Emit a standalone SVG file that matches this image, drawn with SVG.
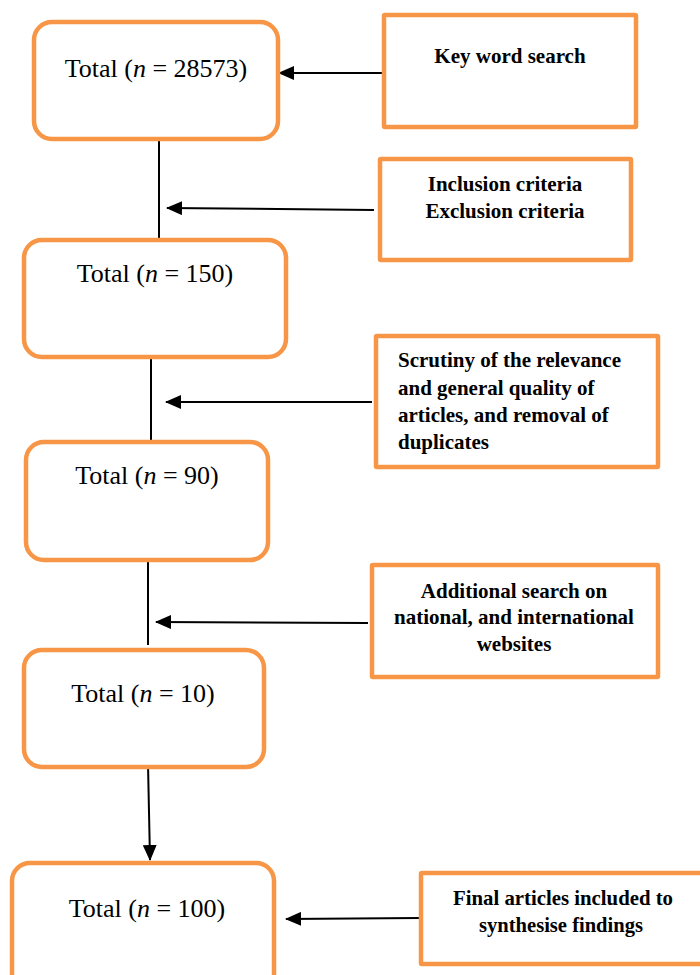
<svg xmlns="http://www.w3.org/2000/svg" width="700" height="975" viewBox="0 0 700 975">
<defs>
<style>
.rn{fill:#fff;stroke:#F79646;stroke-width:4.5}
.rb{fill:#fff;stroke:#F79646;stroke-width:4.5}
.t{font-family:"Liberation Serif","Times New Roman",serif;font-size:26px;fill:#000;text-anchor:middle}
.b{font-family:"Liberation Serif","Times New Roman",serif;font-size:21px;font-weight:bold;fill:#000}
.c{text-anchor:middle}
.ln{stroke:#000;stroke-width:2;fill:none}
</style>
<marker id="ah" markerWidth="16" markerHeight="14" refX="15" refY="7" orient="auto" markerUnits="userSpaceOnUse">
<path d="M0,0 L16,7 L0,14 Z" fill="#000"/>
</marker>
</defs>
<rect width="700" height="975" fill="#fff"/>
<g id="connectors">
<line class="ln" x1="383" y1="73" x2="279" y2="73" marker-end="url(#ah)"/>
<line class="ln" x1="159" y1="139" x2="159" y2="240"/>
<line class="ln" x1="374" y1="210" x2="167" y2="208" marker-end="url(#ah)"/>
<line class="ln" x1="151" y1="357" x2="151" y2="442"/>
<line class="ln" x1="372" y1="402" x2="166" y2="402" marker-end="url(#ah)"/>
<line class="ln" x1="148" y1="560" x2="148" y2="645"/>
<line class="ln" x1="368" y1="623" x2="156" y2="622" marker-end="url(#ah)"/>
<line class="ln" x1="148" y1="764" x2="150" y2="860" marker-end="url(#ah)"/>
<line class="ln" x1="420" y1="918" x2="286" y2="919" marker-end="url(#ah)"/>
</g>
<g id="n1">
<rect class="rn" x="34" y="22" width="244" height="117" rx="18"/>
<text class="t" x="156" y="77">Total (<tspan font-style="italic">n</tspan> = 28573)</text>
</g>
<g id="s1">
<rect class="rb" x="384" y="15" width="252" height="112" rx="1"/>
<text class="b c" x="510" y="63">Key word search</text>
</g>
<g id="s2">
<rect class="rb" x="380" y="159" width="251" height="101" rx="1"/>
<text class="b c" x="505" y="191">Inclusion criteria</text>
<text class="b c" x="505" y="218">Exclusion criteria</text>
</g>
<g id="n2">
<rect class="rn" x="24" y="240" width="262" height="117" rx="18"/>
<text class="t" x="155" y="282">Total (<tspan font-style="italic">n</tspan> = 150)</text>
</g>
<g id="s3">
<rect class="rb" x="376" y="336" width="282" height="131" rx="1"/>
<text class="b" x="398" y="367">Scrutiny of the relevance</text>
<text class="b" x="398" y="395">and general quality of</text>
<text class="b" x="398" y="422">articles, and removal of</text>
<text class="b" x="398" y="449">duplicates</text>
</g>
<g id="n3">
<rect class="rn" x="26" y="442" width="242" height="118" rx="18"/>
<text class="t" x="147" y="484">Total (<tspan font-style="italic">n</tspan> = 90)</text>
</g>
<g id="s4">
<rect class="rb" x="372" y="565" width="286" height="112" rx="1"/>
<text class="b c" x="514" y="598">Additional search on</text>
<text class="b c" x="514" y="624">national, and international</text>
<text class="b c" x="514" y="651">websites</text>
</g>
<g id="n4">
<rect class="rn" x="24" y="650" width="240" height="117" rx="18"/>
<text class="t" x="143" y="702">Total (<tspan font-style="italic">n</tspan> = 10)</text>
</g>
<g id="n5">
<rect class="rn" x="12" y="863" width="262" height="130" rx="18"/>
<text class="t" x="147" y="917">Total (<tspan font-style="italic">n</tspan> = 100)</text>
</g>
<g id="s5">
<rect class="rb" x="421" y="873" width="300" height="91" rx="1"/>
<text class="b c" x="563" y="905" textLength="220" lengthAdjust="spacingAndGlyphs">Final articles included to</text>
<text class="b c" x="561" y="932" textLength="164" lengthAdjust="spacingAndGlyphs">synthesise findings</text>
</g>
</svg>
